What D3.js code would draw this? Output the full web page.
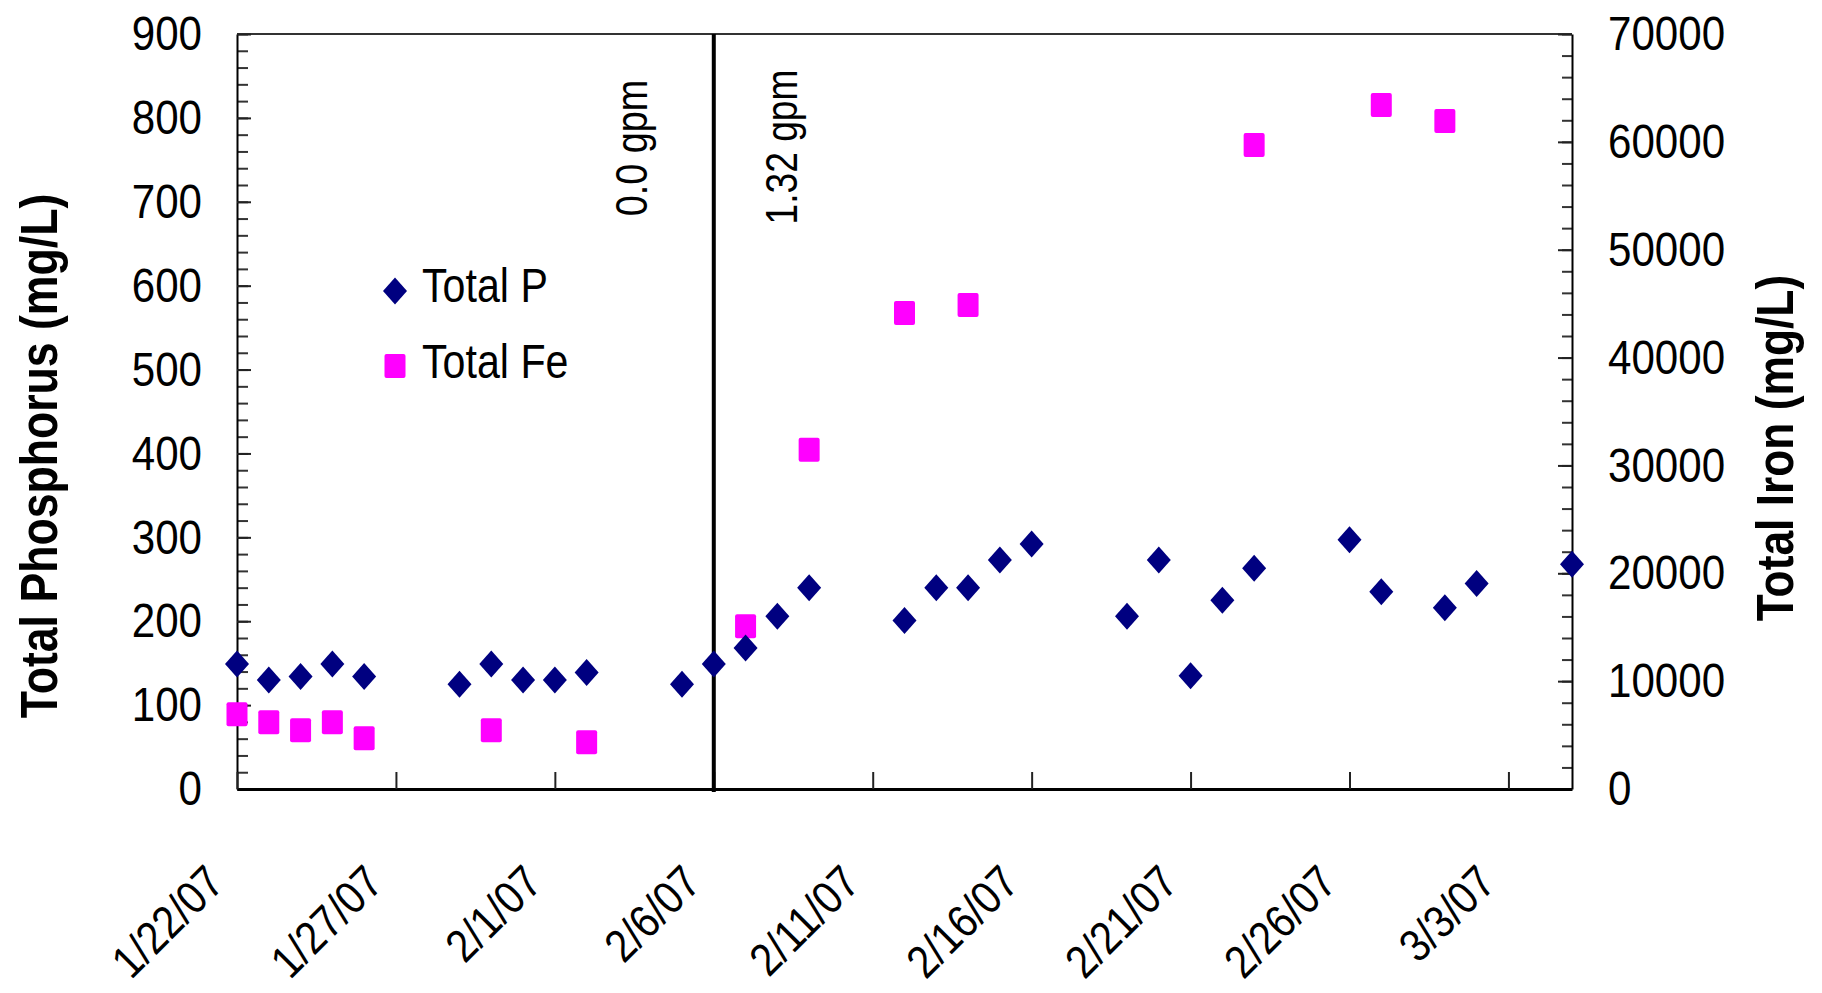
<!DOCTYPE html>
<html>
<head>
<meta charset="utf-8">
<script src="https://cdnjs.cloudflare.com/ajax/libs/d3/7.8.5/d3.min.js"></script>
<style>
  body { margin: 0; background: #fff; }
  text { font-family: "Liberation Sans", Arial, sans-serif; fill: #000; }
</style>
</head>
<body>
<div id="chart"></div>
<script>
// sample dates and values
const pDates = ['1/22/07', '1/23/07', '1/24/07', '1/25/07', '1/26/07', '1/29/07', '1/30/07', '1/31/07',
    '2/1/07', '2/2/07', '2/5/07', '2/6/07', '2/7/07', '2/8/07', '2/9/07', '2/12/07', '2/13/07', '2/14/07',
    '2/15/07', '2/16/07', '2/19/07', '2/20/07', '2/21/07', '2/22/07', '2/23/07', '2/26/07', '2/27/07',
    '3/1/07', '3/2/07', '3/5/07'];
const pValues = [149, 130, 134, 149, 134, 125, 149, 130, 130, 139, 125, 149, 168, 206, 240, 201, 240, 240,
    273, 292, 206, 273, 135, 225, 263, 297, 235, 216, 245, 268];

const feDates = ['1/22/07', '1/23/07', '1/24/07', '1/25/07', '1/26/07', '1/30/07', '2/2/07', '2/7/07',
    '2/9/07', '2/12/07', '2/14/07', '2/23/07', '2/27/07', '3/1/07'];
const feValues = [6930, 6180, 5440, 6180, 4700, 5440, 4330, 15090, 31460, 44130, 44870, 59710, 63420, 61930];

const xTickLabels = ['1/22/07', '1/27/07', '2/1/07', '2/6/07', '2/11/07', '2/16/07', '2/21/07', '2/26/07', '3/3/07'];
const xDomain = ['1/22/07', '3/5/07'];
const pTicks = [0, 100, 200, 300, 400, 500, 600, 700, 800, 900];
const feTicks = [0, 10000, 20000, 30000, 40000, 50000, 60000, 70000];
const flowChangeDate = '2/6/07';

const W = 1822, H = 993;
const margin = {top: 34, right: 250, bottom: 204, left: 237};
const width = W - margin.left - margin.right;
const height = H - margin.top - margin.bottom;
const sx = 0.86; // glyphs in the picture are a bit narrow

const parse = d3.timeParse('%m/%d/%y');

const svg = d3.select('#chart').append('svg')
    .attr('width', W)
    .attr('height', H);

const chart = svg.append('g')
    .attr('transform', `translate(${margin.left},${margin.top})`);

const x = d3.scaleTime()
    .domain(xDomain.map(parse))
    .range([0, width]);
const yP = d3.scaleLinear().domain([0, 900]).range([height, 0]);
const yFe = d3.scaleLinear().domain([0, 70000]).range([height, 0]);

// top border
chart.append('line')
    .attr('x1', 0).attr('x2', width)
    .attr('y1', 0).attr('y2', 0)
    .attr('stroke', '#333').attr('stroke-width', 2);

// left axis: minor then major ticks, pointing inward
chart.append('g')
    .call(d3.axisLeft(yP).tickValues(d3.range(0, 901, 20)).tickSize(-11).tickSizeOuter(0).tickFormat(''))
    .call(g => g.select('.domain').remove())
    .call(g => g.selectAll('line').attr('stroke', '#333').attr('stroke-width', 2));

const leftAxis = chart.append('g')
    .call(d3.axisLeft(yP).tickValues(pTicks).tickSize(-14).tickSizeOuter(0).tickPadding(35));
leftAxis.select('.domain').attr('stroke', '#000').attr('stroke-width', 2);
leftAxis.selectAll('line').attr('stroke', '#222').attr('stroke-width', 2);
leftAxis.selectAll('text')
    .style('font-size', '49px')
    .attr('x', -35 / sx)
    .attr('transform', `scale(${sx},1)`);

// right axis
chart.append('g')
    .attr('transform', `translate(${width},0)`)
    .call(d3.axisRight(yFe).tickValues(d3.range(0, 70001, 2000)).tickSize(-10).tickSizeOuter(0).tickFormat(''))
    .call(g => g.select('.domain').remove())
    .call(g => g.selectAll('line').attr('stroke', '#333').attr('stroke-width', 2));

const rightAxis = chart.append('g')
    .attr('transform', `translate(${width},0)`)
    .call(d3.axisRight(yFe).tickValues(feTicks).tickSize(-14).tickSizeOuter(0).tickPadding(36)
        .tickFormat(d3.format('d')));
rightAxis.select('.domain').attr('stroke', '#000').attr('stroke-width', 2);
rightAxis.selectAll('line').attr('stroke', '#222').attr('stroke-width', 2);
rightAxis.selectAll('text')
    .style('font-size', '49px')
    .attr('x', 36 / sx)
    .attr('transform', `scale(${sx},1)`);

// bottom axis with slanted date labels
const bottomAxis = chart.append('g')
    .attr('transform', `translate(0,${height})`)
    .call(d3.axisBottom(x).tickValues(xTickLabels.map(parse)).tickSize(-17).tickSizeOuter(0)
        .tickFormat((d, i) => xTickLabels[i]));
bottomAxis.select('.domain').attr('stroke', '#000').attr('stroke-width', 3);
bottomAxis.selectAll('line').attr('stroke', '#222').attr('stroke-width', 2);
bottomAxis.selectAll('text')
    .style('font-size', '46px')
    .style('text-anchor', 'end')
    .attr('x', 0).attr('y', 0).attr('dy', 0)
    .attr('transform', `translate(-11,96) rotate(-45) scale(0.88,1)`);

// flow change marker
const xFlow = x(parse(flowChangeDate));
chart.append('line')
    .attr('x1', xFlow).attr('x2', xFlow)
    .attr('y1', 0).attr('y2', height + 3)
    .attr('stroke', '#000').attr('stroke-width', 4);

chart.append('text')
    .attr('transform', `translate(${xFlow - 67},${114}) rotate(-90) scale(${sx},1)`)
    .style('font-size', '44px')
    .style('text-anchor', 'middle')
    .text('0.0 gpm');

chart.append('text')
    .attr('transform', `translate(${xFlow + 83},${113}) rotate(-90) scale(0.845,1)`)
    .style('font-size', '44px')
    .style('text-anchor', 'middle')
    .text('1.32 gpm');

// markers
const diamond = 'M0,-13.5L12,0L0,13.5L-12,0Z';

chart.selectAll('.fe')
    .data(feDates.map((d, i) => ({date: parse(d), value: feValues[i]})))
    .join('rect')
    .attr('class', 'fe')
    .attr('x', d => x(d.date) - 10.5)
    .attr('y', d => yFe(d.value) - 12)
    .attr('width', 21)
    .attr('height', 24)
    .attr('rx', 2)
    .attr('fill', '#ff00ff');

chart.selectAll('.p')
    .data(pDates.map((d, i) => ({date: parse(d), value: pValues[i]})))
    .join('path')
    .attr('class', 'p')
    .attr('d', diamond)
    .attr('transform', d => `translate(${x(d.date)},${yP(d.value)})`)
    .attr('fill', '#000080');

// legend
const legend = svg.append('g').attr('transform', 'translate(395,0)');
legend.append('path').attr('d', diamond).attr('transform', 'translate(0,291)').attr('fill', '#000080');
legend.append('rect').attr('x', -10.5).attr('y', 354).attr('width', 21).attr('height', 24).attr('rx', 2).attr('fill', '#ff00ff');
legend.append('text')
    .attr('transform', `translate(27,302) scale(0.84,1)`)
    .style('font-size', '49px')
    .text('Total P');
legend.append('text')
    .attr('transform', `translate(27,378) scale(0.84,1)`)
    .style('font-size', '49px')
    .text('Total Fe');

// axis titles
svg.append('text')
    .attr('transform', `translate(57,456) rotate(-90) scale(0.858,1)`)
    .style('font-size', '52px')
    .style('font-weight', 'bold')
    .style('text-anchor', 'middle')
    .text('Total Phosphorus (mg/L)');

svg.append('text')
    .attr('transform', `translate(1793,448) rotate(-90) scale(0.853,1)`)
    .style('font-size', '52px')
    .style('font-weight', 'bold')
    .style('text-anchor', 'middle')
    .text('Total Iron (mg/L)');
</script>
</body>
</html>
